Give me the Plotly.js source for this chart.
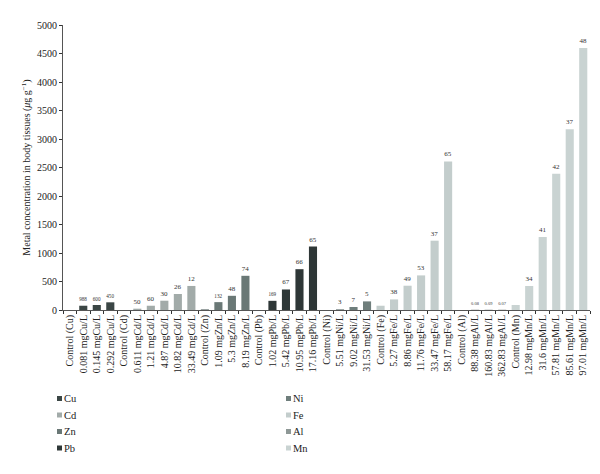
<!DOCTYPE html>
<html>
<head>
<meta charset="utf-8">
<script src="https://cdn.plot.ly/plotly-3.0.1.min.js"></script>
<style>html,body{margin:0;padding:0;background:#fff}#chart{width:600px;height:474px}</style>
</head>
<body>
<div id="chart"></div>
<script>
const allCategories = [
  "Control (Cu)", "0.081 mgCu/L", "0.145 mgCu/L", "0.292 mgCu/L",
  "Control (Cd)", "0.611 mgCd/L", "1.21 mgCd/L", "4.87 mgCd/L", "10.82 mgCd/L", "33.49 mgCd/L",
  "Control (Zn)", "1.09 mgZn/L", "5.3 mgZn/L", "8.19 mgZn/L",
  "Control (Pb)", "1.02 mgPb/L", "5.42 mgPb/L", "10.95 mgPb/L", "17.16 mgPb/L",
  "Control (Ni)", "5.51 mgNi/L", "9.02 mgNi/L", "31.53 mgNi/L",
  "Control (Fe)", "5.27 mgFe/L", "8.86 mgFe/L", "11.76 mgFe/L", "33.47 mgFe/L", "58.17 mgFe/L",
  "Control (Al)", "88.38 mgAl/L", "160.83 mgAl/L", "362.83 mgAl/L",
  "Control (Mn)", "12.98 mgMn/L", "31.6 mgMn/L", "57.81 mgMn/L", "85.61 mgMn/L", "97.01 mgMn/L"
];

const cuCats = ["Control (Cu)", "0.081 mgCu/L", "0.145 mgCu/L", "0.292 mgCu/L"];
const cuVals = [0, 75, 88, 135];
const cuLabels = [null, "988", "600", "450"];

const cdCats = ["Control (Cd)", "0.611 mgCd/L", "1.21 mgCd/L", "4.87 mgCd/L", "10.82 mgCd/L", "33.49 mgCd/L"];
const cdVals = [0, 23, 75, 163, 281, 422];
const cdLabels = [null, "50", "60", "30", "26", "12"];

const znCats = ["Control (Zn)", "1.09 mgZn/L", "5.3 mgZn/L", "8.19 mgZn/L"];
const znVals = [12, 138, 249, 600];
const znLabels = [null, "132", "48", "74"];

const pbCats = ["Control (Pb)", "1.02 mgPb/L", "5.42 mgPb/L", "10.95 mgPb/L", "17.16 mgPb/L"];
const pbVals = [0, 161, 360, 716, 1114];
const pbLabels = [null, "169", "67", "66", "65"];

const niCats = ["Control (Ni)", "5.51 mgNi/L", "9.02 mgNi/L", "31.53 mgNi/L"];
const niVals = [0, 12, 53, 151];
const niLabels = [null, "3", "7", "5"];

const feCats = ["Control (Fe)", "5.27 mgFe/L", "8.86 mgFe/L", "11.76 mgFe/L", "33.47 mgFe/L", "58.17 mgFe/L"];
const feVals = [75, 186, 426, 607, 1216, 2607];
const feLabels = [null, "38", "49", "53", "37", "65"];

const alCats = ["Control (Al)", "88.38 mgAl/L", "160.83 mgAl/L", "362.83 mgAl/L"];
const alVals = [0, 5, 5, 5];
const alLabels = [null, "0.08", "0.09", "0.07"];

const mnCats = ["Control (Mn)", "12.98 mgMn/L", "31.6 mgMn/L", "57.81 mgMn/L", "85.61 mgMn/L", "97.01 mgMn/L"];
const mnVals = [88, 421, 1281, 2391, 3170, 4596];
const mnLabels = [null, "34", "41", "42", "37", "48"];

const yTickVals = [0, 500, 1000, 1500, 2000, 2500, 3000, 3500, 4000, 4500, 5000];

// legend layout: left column then right column
const legendLeft = ["Cu", "Cd", "Zn", "Pb"];
const legendRight = ["Ni", "Fe", "Al", "Mn"];

const FONT = "Liberation Serif, Times New Roman, serif";
const colors = {
  Cu: "#3b4645", Ni: "#6f7e7c", Cd: "#a2aba9", Fe: "#c3cdcc",
  Zn: "#6a7876", Al: "#8e9896", Pb: "#2e3737", Mn: "#c9d3d2"
};

function mk(name, cats, vals, labels) {
  return {
    type: "bar", name: name, x: cats, y: vals, text: labels,
    textposition: "outside", cliponaxis: false,
    textfont: {family: FONT, size: 7, color: "#333"},
    marker: {color: colors[name], line: {width: 0}},
    hoverinfo: "x+y", showlegend: false
  };
}

const data = [
  mk("Cu", cuCats, cuVals, cuLabels),
  mk("Cd", cdCats, cdVals, cdLabels),
  mk("Zn", znCats, znVals, znLabels),
  mk("Pb", pbCats, pbVals, pbLabels),
  mk("Ni", niCats, niVals, niLabels),
  mk("Fe", feCats, feVals, feLabels),
  mk("Al", alCats, alVals, alLabels),
  mk("Mn", mnCats, mnVals, mnLabels)
];

// manual legend (paper pixel placement)
const W = 600, H = 474;
const shapes = [], annotations = [];
function addLegendColumn(names, xMarker) {
  names.forEach((nm, i) => {
    const yc = 398.5 + i * 16.5;
    shapes.push({
      type: "rect", xref: "paper", yref: "paper",
      x0: (xMarker - 63) / 527, x1: (xMarker + 5 - 63) / 527,
      y0: (310 - (yc + 2.5)) / 285, y1: (310 - (yc - 2.5)) / 285,
      fillcolor: colors[nm], line: {width: 0}
    });
    annotations.push({
      xref: "paper", yref: "paper", x: (xMarker + 5 - 63) / 527, y: (310 - yc) / 285,
      xanchor: "left", yanchor: "middle", showarrow: false, text: nm,
      font: {family: FONT, size: 10.5, color: "#222"}
    });
  });
}
addLegendColumn(legendLeft, 57);
addLegendColumn(legendRight, 286);

const layout = {
  width: W, height: H,
  margin: {l: 63, r: 10, t: 25, b: 164},
  paper_bgcolor: "#fff", plot_bgcolor: "#fff",
  font: {family: FONT, size: 10, color: "#222"},
  barmode: "overlay",
  bargap: 0.4,
  showlegend: false,
  shapes: shapes,
  annotations: annotations,
  xaxis: {
    type: "category", categoryorder: "array", categoryarray: allCategories,
    tickvals: allCategories,
    tickangle: -90, tickfont: {family: FONT, size: 10, color: "#222"},
    showline: true, linecolor: "#555", linewidth: 1,
    ticks: "outside", tickson: "boundaries", ticklen: 3, tickcolor: "#333",
    showgrid: false, zeroline: false, automargin: false
  },
  yaxis: {
    range: [0, 5000], tickvals: yTickVals,
    tickfont: {family: FONT, size: 10, color: "#222"},
    showline: true, linecolor: "#555", linewidth: 1,
    ticks: "outside", ticklen: 3, tickcolor: "#333",
    showgrid: false, zeroline: false, automargin: false,
    title: {text: "Metal concentration in body tissues (<i>μ</i>g g<sup>−1</sup>)", font: {family: FONT, size: 10, color: "#222"}, standoff: 4}
  }
};

Plotly.newPlot("chart", data, layout, {displayModeBar: false, staticPlot: true});
</script>
</body>
</html>
